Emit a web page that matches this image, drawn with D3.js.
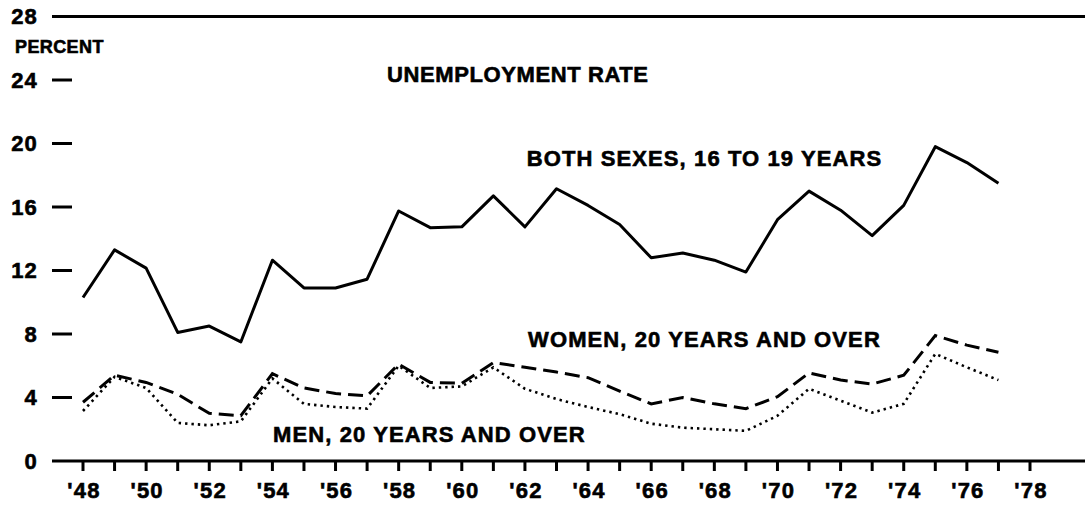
<!DOCTYPE html>
<html>
<head>
<meta charset="utf-8">
<script src="https://cdn.jsdelivr.net/npm/d3@7"></script>
<style>
  html, body { margin: 0; padding: 0; background: #fff; }
  svg { display: block; }
  text { font-family: "Liberation Sans", Arial, Helvetica, sans-serif; font-weight: bold; fill: #000; stroke: #000; stroke-width: 0.6px; }
</style>
</head>
<body>
<svg id="chart" width="1085" height="508"></svg>
<script>
// ---- data ----
const years = [1948,1949,1950,1951,1952,1953,1954,1955,1956,1957,1958,1959,1960,1961,1962,1963,1964,1965,1966,1967,1968,1969,1970,1971,1972,1973,1974,1975,1976,1977];
const teens = [10.3,13.3,12.15,8.1,8.5,7.5,12.65,10.9,10.9,11.45,15.75,14.7,14.75,16.7,14.75,17.15,16.1,14.9,12.8,13.1,12.65,11.9,15.2,17.0,15.8,14.2,16.1,19.8,18.8,17.5];
const women = [3.7,5.4,4.95,4.2,3.0,2.85,5.5,4.6,4.25,4.1,6.1,4.95,4.9,6.2,5.9,5.6,5.25,4.4,3.6,4.0,3.6,3.3,4.05,5.55,5.1,4.85,5.4,7.9,7.3,6.85];
const men = [3.15,5.3,4.6,2.4,2.25,2.5,5.2,3.6,3.4,3.3,6.0,4.6,4.7,5.9,4.55,3.9,3.4,2.95,2.35,2.1,2.0,1.9,2.85,4.55,3.8,3.05,3.6,6.75,5.9,5.1];
const yTicks = [0,4,8,12,16,20,24,28];
const xTickYears = d3.range(1948, 1979);
const xLabelYears = d3.range(1948, 1979, 2);
const labels = [
  {text: "UNEMPLOYMENT RATE", year: 1957.63, value: 23.85, spacing: 0.6},
  {text: "BOTH SEXES, 16 TO 19 YEARS", year: 1962.06, value: 18.57, spacing: 1.1},
  {text: "WOMEN, 20 YEARS AND OVER", year: 1962.1, value: 7.17, spacing: 1.1},
  {text: "MEN, 20 YEARS AND OVER", year: 1954.02, value: 1.2, spacing: 1.1}
];

// ---- layout ----
const svg = d3.select("#chart");
const x = d3.scaleLinear().domain([1948, 1978]).range([83, 1030]);
const y = d3.scaleLinear().domain([0, 28]).range([461, 16.5]);
const axisLeft = 52;

// y axis: full lines at 0 and 28, short dashes elsewhere
const gy = svg.append("g");
yTicks.forEach(t => {
  const full = (t === 0 || t === 28);
  gy.append("line")
    .attr("x1", axisLeft).attr("x2", full ? 1085 : 72)
    .attr("y1", y(t)).attr("y2", y(t))
    .attr("stroke", "#000").attr("stroke-width", 3);
  gy.append("text")
    .attr("x", 38).attr("y", y(t))
    .attr("text-anchor", "end").attr("dominant-baseline", "central")
    .attr("font-size", 22).attr("letter-spacing", 1.2)
    .text(t);
});
svg.append("text").attr("x", 15).attr("y", 53)
  .attr("font-size", 18).attr("letter-spacing", 0.4)
  .text("PERCENT");

// x axis ticks and labels
const gx = svg.append("g");
xTickYears.forEach(yr => {
  gx.append("line")
    .attr("x1", x(yr)).attr("x2", x(yr))
    .attr("y1", y(0)).attr("y2", y(0) + 10)
    .attr("stroke", "#000").attr("stroke-width", 3);
});
xLabelYears.forEach(yr => {
  gx.append("text")
    .attr("x", x(yr) + 1).attr("y", 498)
    .attr("text-anchor", "middle")
    .attr("font-size", 22).attr("letter-spacing", 1.2)
    .text("'" + String(yr).slice(2));
});

// series
const line = d3.line().x((d, i) => x(years[i])).y(d => y(d));
svg.append("path").datum(teens).attr("d", line)
  .attr("fill", "none").attr("stroke", "#000").attr("stroke-width", 3).attr("stroke-linejoin", "round");
svg.append("path").datum(women).attr("d", line)
  .attr("fill", "none").attr("stroke", "#000").attr("stroke-width", 3)
  .attr("stroke-dasharray", "15,7");
svg.append("path").datum(men).attr("d", line)
  .attr("fill", "none").attr("stroke", "#000").attr("stroke-width", 2.6)
  .attr("stroke-dasharray", "2.4,4");

// annotations
labels.forEach(l => {
  svg.append("text")
    .attr("x", x(l.year)).attr("y", y(l.value))
    .attr("font-size", 22)
    .attr("letter-spacing", l.spacing)
    .text(l.text);
});
</script>
</body>
</html>
